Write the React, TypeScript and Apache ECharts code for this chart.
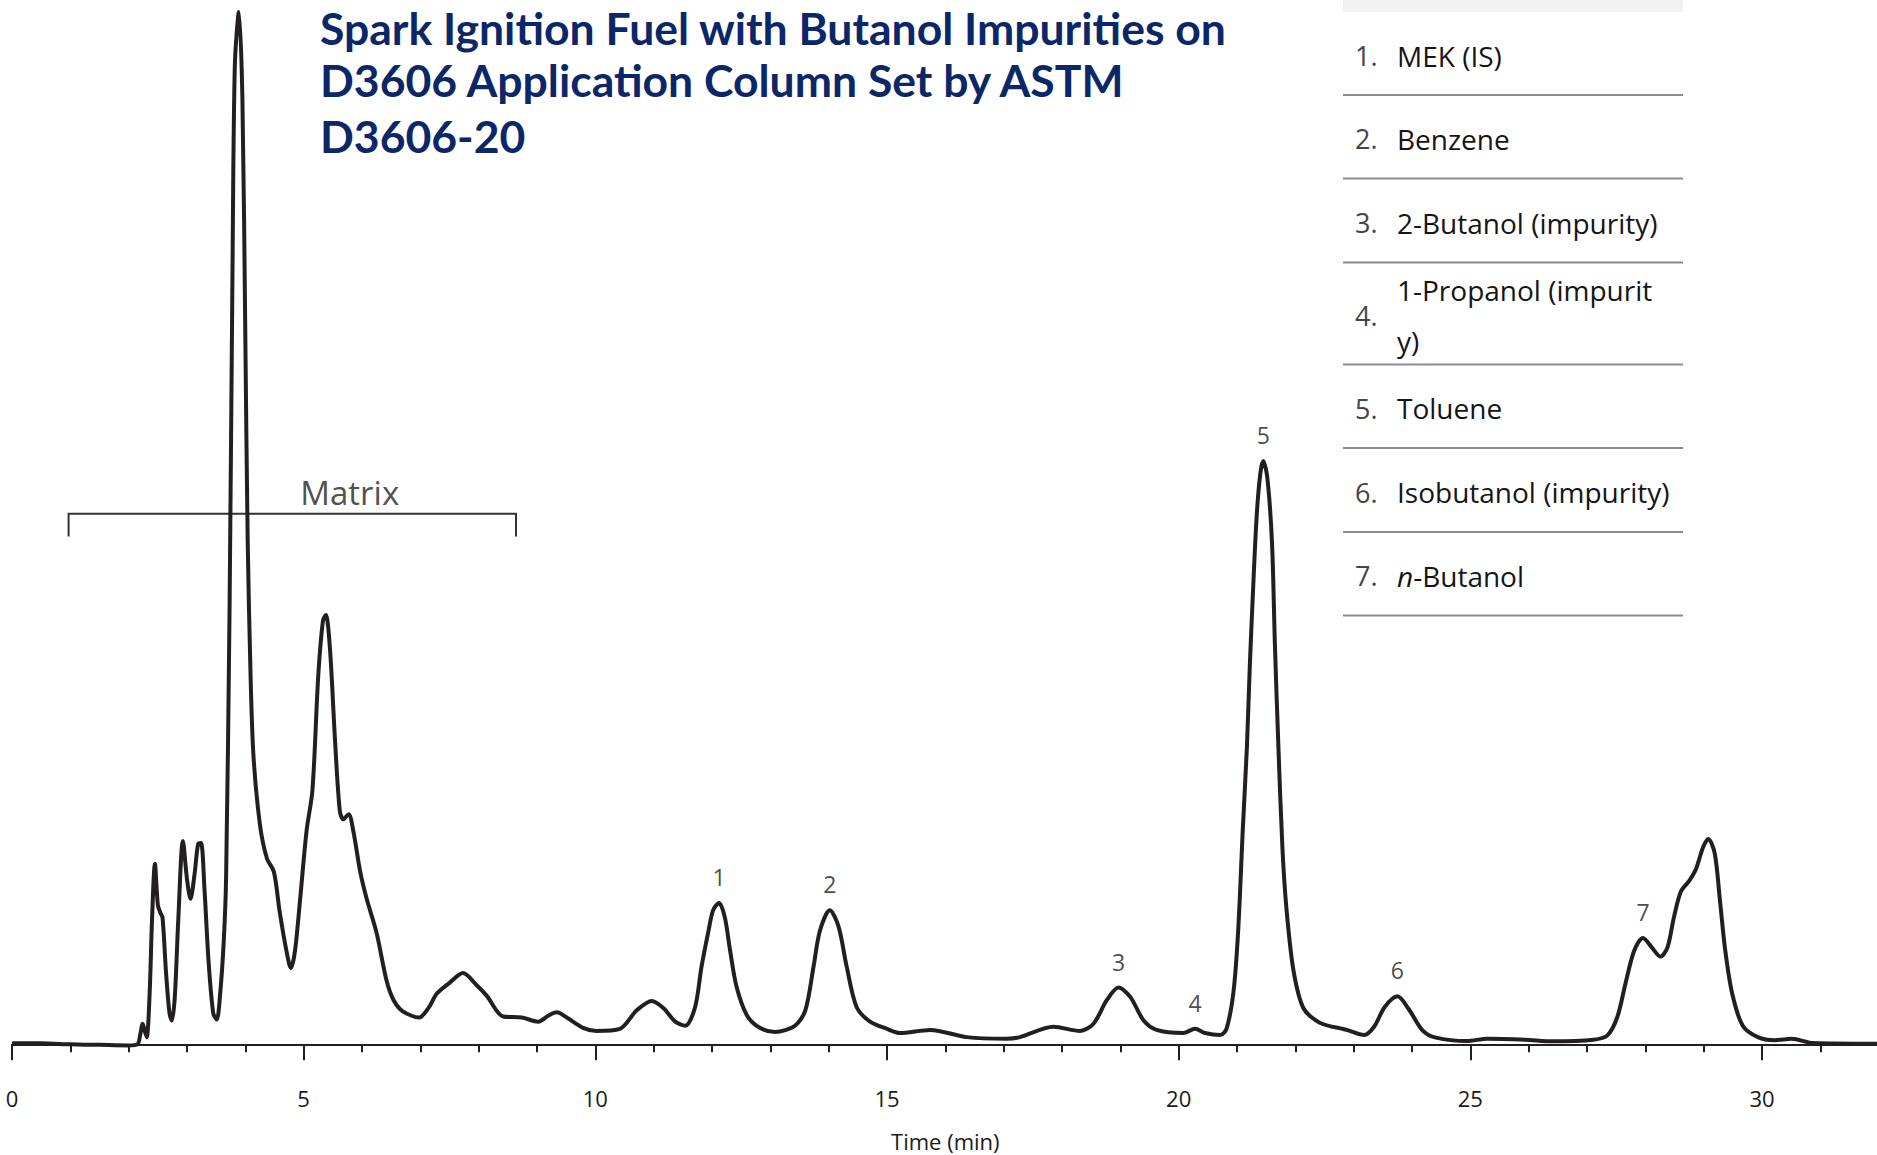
import React, { useEffect, useRef } from "react";
import * as echarts from "echarts";

// Chromatogram trace (time in minutes, detector signal in arbitrary units)
const timeMin = [
  0.0, 0.5, 1.0, 1.5, 2.0, 2.15, 2.2, 2.24, 2.28, 2.31, 2.36, 2.4, 2.45, 2.5, 2.54, 2.58, 2.64, 2.7, 2.74, 2.79,
  2.85, 2.93, 3.0, 3.06, 3.13, 3.19, 3.24, 3.3, 3.37, 3.45, 3.51, 3.57, 3.63, 3.67, 3.73, 3.78, 3.82, 3.89, 3.95,
  4.0, 4.04, 4.09, 4.14, 4.25, 4.37, 4.49, 4.59, 4.71, 4.78, 4.85, 4.94, 5.05, 5.15, 5.25, 5.33, 5.38, 5.45, 5.54,
  5.62, 5.68, 5.77, 5.85, 5.97, 6.08, 6.25, 6.42, 6.54, 6.7, 6.98, 7.15, 7.28, 7.51, 7.73, 7.97, 8.14, 8.42, 8.74,
  9.02, 9.2, 9.34, 9.51, 9.79, 10.02, 10.42, 10.71, 10.97, 11.17, 11.37, 11.54, 11.71, 11.82, 11.94, 12.02, 12.12,
  12.22, 12.31, 12.42, 12.6, 12.82, 13.08, 13.42, 13.6, 13.74, 13.85, 14.02, 14.17, 14.31, 14.48, 14.71, 15.0,
  15.22, 15.74, 16.37, 17.05, 17.28, 17.85, 18.31, 18.54, 18.77, 18.97, 19.17, 19.4, 19.62, 20.08, 20.28, 20.45,
  20.71, 20.82, 20.94, 21.02, 21.1, 21.17, 21.22, 21.28, 21.34, 21.4, 21.45, 21.52, 21.6, 21.65, 21.71, 21.78,
  21.85, 21.97, 22.14, 22.42, 22.88, 23.18, 23.35, 23.53, 23.75, 23.94, 24.18, 24.41, 24.94, 25.29, 25.94, 26.41,
  27.11, 27.35, 27.52, 27.66, 27.81, 27.96, 28.11, 28.26, 28.38, 28.49, 28.61, 28.76, 28.87, 28.99, 29.08, 29.19,
  29.28, 29.37, 29.49, 29.67, 29.93, 30.22, 30.51, 30.87, 32.0,
];
const signal = [
  0.1, 0.1, 0.0, -0.05, -0.1, 0.0, 1.0, 2.0, 1.2, 0.7, 5.0, 12.0, 17.5, 13.5, 12.8, 12.3, 7.0, 3.0, 2.3, 4.5,
  12.0, 19.7, 16.0, 14.1, 16.5, 19.4, 19.5, 15.0, 8.0, 3.0, 2.4, 5.0, 10.0, 16.1, 42.3, 75.0, 94.8, 100.0, 91.5,
  68.5, 48.9, 35.7, 27.9, 21.3, 18.0, 16.7, 12.8, 8.9, 7.4, 9.0, 14.1, 20.7, 24.6, 35.7, 41.0, 41.6, 38.4, 29.2,
  22.6, 21.8, 22.3, 20.7, 16.7, 14.1, 10.8, 6.2, 4.3, 3.2, 2.6, 3.6, 4.9, 6.0, 6.9, 5.7, 4.7, 2.7, 2.6,
  2.2, 2.8, 3.1, 2.6, 1.6, 1.3, 1.5, 3.3, 4.2, 3.5, 2.2, 1.8, 3.6, 7.5, 11.0, 13.0, 13.7,
  12.3, 9.1, 5.6, 2.8, 1.6, 1.2, 1.8, 3.3, 7.5, 11.0, 13.0, 11.4, 7.5, 3.6, 2.2, 1.5,
  1.1, 1.4, 0.7, 0.55, 0.7, 1.7, 1.3, 2.0, 4.3, 5.5, 4.6, 2.3, 1.4, 1.1, 1.5, 1.1,
  0.9, 1.5, 5.1, 11.0, 20.9, 28.8, 36.7, 44.6, 51.4, 55.3, 56.5, 54.9, 48.6, 38.7, 28.8, 18.9,
  13.0, 7.1, 3.5, 2.1, 1.4, 0.9, 1.7, 3.6, 4.65, 3.45, 1.36, 0.65, 0.32, 0.55, 0.45, 0.29,
  0.45, 0.87, 2.65, 5.9, 9.1, 10.3, 9.4, 8.5, 9.4, 12.3, 14.8, 15.9, 17.0, 19.1, 19.9, 18.5,
  13.9, 9.1, 4.9, 1.8, 0.7, 0.4, 0.55, 0.13, 0.06,
];

// Numbered peaks
const peakNames = ["1", "2", "3", "4", "5", "6", "7"];
const peakTimes = [12.12, 14.02, 18.97, 20.28, 21.45, 23.75, 27.96];
const peakHeights = [13.7, 13.0, 5.5, 1.5, 56.5, 4.65, 10.3];

// Matrix bracket (time range, bracket level, foot level) and its label
const matrixRange = [0.97, 8.64];
const matrixLevels = [51.4, 49.2];
const matrixLabel = "Matrix";
const matrixLabelPos = [5.79, 53.5];

// Axis
const xTickLabels = ["0", "5", "10", "15", "20", "25", "30"];
const xAxisName = "Time (min)";

// Title and peak table
const titleLines = [
  "Spark Ignition Fuel with Butanol Impurities on",
  "D3606 Application Column Set by ASTM",
  "D3606-20",
];
const tableNumbers = ["1.", "2.", "3.", "4.", "5.", "6.", "7."];
const tableNames = [
  "MEK (IS)",
  "Benzene",
  "2-Butanol (impurity)",
  "1-Propanol (impurit\ny)",
  "Toluene",
  "Isobutanol (impurity)",
  "{i|n}-Butanol",
];

const FONT = "'Open Sans', 'Noto Sans', sans-serif";
const INK = "#231f20";

export default function App() {
  const ref = useRef<HTMLDivElement>(null);

  useEffect(() => {
    if (!ref.current) return;
    const chart = echarts.init(ref.current, null, { renderer: "svg" });

    const trace = timeMin.map((t, i) => [t, signal[i]]);
    const peaks = peakTimes.map((t, i) => [t, peakHeights[i], peakNames[i]]);
    const bracket = [
      [matrixRange[0], matrixLevels[1]],
      [matrixRange[0], matrixLevels[0]],
      [matrixRange[1], matrixLevels[0]],
      [matrixRange[1], matrixLevels[1]],
    ];

    // peak table geometry
    const tLeft = 1343;
    const tRight = 1683;
    const bandBottom = 12;
    const seps = [95, 178.5, 262.5, 364.5, 448, 532, 615.5];
    const tableEls: any[] = [
      { type: "rect", shape: { x: tLeft, y: 0, width: tRight - tLeft, height: bandBottom }, style: { fill: "#f1f1f1" }, silent: true },
    ];
    seps.forEach((y, i) => {
      tableEls.push({
        type: "line",
        shape: { x1: tLeft, y1: y, x2: tRight, y2: y },
        style: { stroke: "#8c8c8c", lineWidth: 2 },
        silent: true,
      });
      const prev = i === 0 ? bandBottom : seps[i - 1];
      const cy = (prev + y) / 2 + 2;
      tableEls.push({
        type: "text",
        x: 1355,
        y: cy,
        style: { text: tableNumbers[i], font: `27px ${FONT}`, fill: "#454545", textVerticalAlign: "middle" },
        silent: true,
      });
      tableEls.push({
        type: "text",
        x: 1397,
        y: cy,
        style: {
          text: tableNames[i],
          font: `28px ${FONT}`,
          fill: "#151515",
          textVerticalAlign: "middle",
          lineHeight: 51,
          rich: { i: { fontStyle: "italic", fontSize: 28, fontFamily: FONT, fill: "#151515" } },
        },
        silent: true,
      });
    });

    const titleYs = [27, 79, 135];
    const titleEls = titleLines.map((line, i) => ({
      type: "text",
      x: 320,
      y: titleYs[i],
      style: {
        text: line,
        font: "bold 44.5px Lato, 'Open Sans', sans-serif",
        lineHeight: 42,
        fill: "#0b2768",
        textVerticalAlign: "middle",
      },
      silent: true,
    }));

    const option: any = {
      animation: false,
      backgroundColor: "#ffffff",
      grid: {
        left: 12,
        top: 12,
        width: 35 * 58.333,
        height: 1053,
        containLabel: false,
        outerBoundsMode: "none",
      },
      xAxis: {
        type: "value",
        min: 0,
        max: 35,
        interval: 5,
        axisLine: { show: true, lineStyle: { color: INK, width: 2 } },
        axisTick: { show: true, length: 16, lineStyle: { color: INK, width: 2 } },
        minorTick: { show: true, splitNumber: 5, length: 8, lineStyle: { color: INK, width: 2 } },
        splitLine: { show: false },
        minorSplitLine: { show: false },
        axisLabel: {
          margin: 22,
          fontSize: 22,
          fontFamily: FONT,
          color: "#1a1a1a",
          formatter: (v: number) => {
            const s = String(v);
            return xTickLabels.includes(s) ? s : "";
          },
        },
      },
      yAxis: { type: "value", min: -2, max: 100, show: false },
      series: [
        {
          type: "line",
          data: trace,
          showSymbol: false,
          symbol: "none",
          smooth: 0.3,
          clip: false,
          lineStyle: { color: INK, width: 4, join: "round" },
          silent: true,
          z: 3,
        },
        {
          type: "scatter",
          data: peaks,
          symbolSize: 1,
          itemStyle: { color: "rgba(0,0,0,0)" },
          label: {
            show: true,
            position: "top",
            distance: 14,
            formatter: (p: any) => p.data[2],
            fontSize: 23,
            fontFamily: FONT,
            color: "#1a1a1a",
          },
          silent: true,
          z: 4,
        },
        {
          type: "lines",
          coordinateSystem: "cartesian2d",
          polyline: true,
          data: [{ coords: bracket }],
          lineStyle: { color: "#333", width: 2, opacity: 1 },
          silent: true,
          z: 2,
        },
        {
          type: "scatter",
          data: [[matrixLabelPos[0], matrixLabelPos[1]]],
          symbolSize: 1,
          itemStyle: { color: "rgba(0,0,0,0)" },
          label: {
            show: true,
            position: "inside",
            formatter: matrixLabel,
            fontSize: 33,
            fontFamily: FONT,
            color: "#222",
          },
          silent: true,
          z: 4,
        },
      ],
      graphic: [...titleEls, ...tableEls],
    };

    chart.setOption(option);

    // axis name centred under the visible 0–32 min span
    const left = chart.convertToPixel({ gridIndex: 0 }, [0, -2]) as number[];
    const right = chart.convertToPixel({ gridIndex: 0 }, [32, -2]) as number[];
    chart.setOption({
      graphic: [
        ...titleEls,
        ...tableEls,
        {
          type: "text",
          x: (left[0] + right[0]) / 2,
          y: left[1] + 76,
          style: {
            text: xAxisName,
            font: `22px ${FONT}`,
            fill: "#1a1a1a",
            textAlign: "center",
            textVerticalAlign: "middle",
          },
          silent: true,
        },
      ],
    });

    return () => chart.dispose();
  }, []);

  return (
    <div
      ref={ref}
      style={{ position: "absolute", left: 0, top: 0, width: 1877, height: 1155, background: "#fff" }}
    />
  );
}
